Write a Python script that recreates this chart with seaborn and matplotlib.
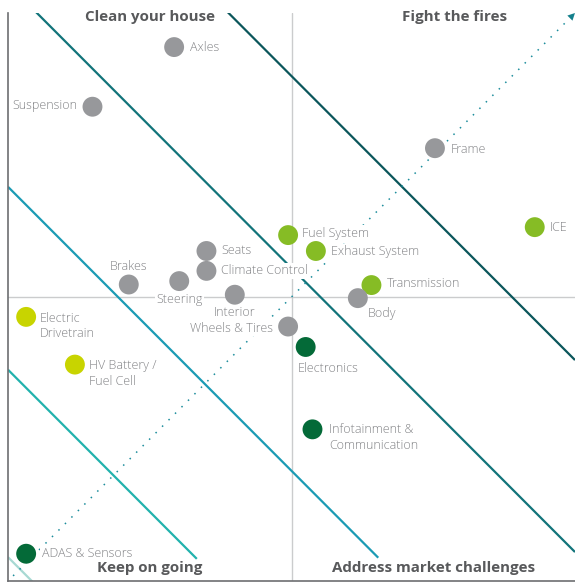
import matplotlib
matplotlib.use("Agg")
import matplotlib.pyplot as plt
import pandas as pd
import seaborn as sns

# --- data -------------------------------------------------------------
components = [
    "Axles", "Suspension", "Frame", "ICE", "Fuel System", "Exhaust System",
    "Seats", "Climate Control", "Brakes", "Steering", "Interior",
    "Transmission", "Body", "Wheels & Tires", "Electronics",
    "Electric\nDrivetrain", "HV Battery /\nFuel Cell",
    "Infotainment &\nCommunication", "ADAS & Sensors",
]
x_score = [2.93, 1.49, 7.53, 9.29, 4.94, 5.43, 3.50, 3.50, 2.13, 3.02, 4.00,
           6.41, 6.17, 4.94, 5.25, 0.32, 1.18, 5.37, 0.32]
y_score = [9.40, 8.35, 7.62, 6.23, 6.09, 5.81, 5.81, 5.46, 5.22, 5.28, 5.04,
           5.21, 4.98, 4.48, 4.12, 4.65, 3.81, 2.67, 0.48]
segment = ["Chassis", "Chassis", "Chassis", "Powertrain", "Powertrain",
           "Powertrain", "Chassis", "Chassis", "Chassis", "Chassis", "Chassis",
           "Powertrain", "Chassis", "Chassis", "Digital", "Electrified",
           "Electrified", "Digital", "Digital"]

quadrant_titles = ["Clean your house", "Fight the fires",
                   "Keep on going", "Address market challenges"]

# diagonal zone boundaries: y = c - x, drawn over the given x span
boundary_c = [13.89, 10.51, 6.94, 3.72, 0.42]
boundary_x_end = [10.0, 10.0, 6.53, 3.33, 0.5]

df = pd.DataFrame({"component": components, "x": x_score, "y": y_score,
                   "segment": segment})

# --- styling ----------------------------------------------------------
sns.set_theme(style="white")
plt.rcParams["font.family"] = ["Open Sans", "DejaVu Sans"]

palette = {"Chassis": "#97989b", "Powertrain": "#86bc25",
           "Electrified": "#c8d400", "Digital": "#046a38"}
boundary_colors = ["#0b565b", "#12747a", "#1b9bb4", "#22b2ad", "#a8d9d3"]
label_color = "#838487"
title_color = "#58595b"

fig = plt.figure(figsize=(5.75, 5.83), dpi=100)
ax = fig.add_axes([8 / 575, 2 / 583, 567 / 575, 568 / 583])
ax.set_xlim(0, 10)
ax.set_ylim(0, 10)
ax.set_xticks([])
ax.set_yticks([])
for side in ("top", "right"):
    ax.spines[side].set_visible(False)
for side in ("left", "bottom"):
    ax.spines[side].set_color("#6d6e71")
    ax.spines[side].set_linewidth(1.2)

# quadrant dividers
ax.axvline(5, color="#cbcccd", lw=1.0, zorder=1)
ax.axhline(5, color="#cbcccd", lw=1.0, zorder=1)

# diagonal zone boundaries
for c, xe, col in zip(boundary_c, boundary_x_end, boundary_colors):
    ax.plot([0, xe], [c, c - xe], color=col, lw=1.6, zorder=2,
            solid_capstyle="butt")

# dotted trend arrow
ax.plot([0.09, 9.85], [0.09, 9.85], color="#1a8c9b", lw=1.1,
        linestyle=(0, (1, 5)), zorder=2)
ax.annotate("", xy=(10.0, 10.0), xytext=(9.8, 9.8),
            arrowprops=dict(arrowstyle="-|>", color="#14808c", lw=0,
                            mutation_scale=13, shrinkA=0, shrinkB=0),
            annotation_clip=False, zorder=3)

# components
sns.scatterplot(data=df, x="x", y="y", hue="segment", palette=palette,
                s=205, linewidth=0, legend=False, ax=ax, zorder=4)
ax.set_xlabel("")
ax.set_ylabel("")

# label placement: (dx, dy) in pixels, dy downward, plus alignment
label_place = {
    "Axles": (16, 0.5, "left"),
    "Suspension": (-15, -1, "right"),
    "Frame": (16, 1, "left"),
    "ICE": (15, 0, "left"),
    "Fuel System": (14, -2, "left"),
    "Exhaust System": (15, 0.5, "left"),
    "Seats": (14.5, 0, "left"),
    "Climate Control": (14.5, 0, "left"),
    "Brakes": (0, -18, "center"),
    "Steering": (0, 18.5, "center"),
    "Interior": (0, 18, "center"),
    "Transmission": (15, -1.5, "left"),
    "Body": (10, 15, "left"),
    "Wheels & Tires": (-15, 1.5, "right"),
    "Electronics": (-8, 22, "left"),
    "Electric\nDrivetrain": (13.5, 9, "left"),
    "HV Battery /\nFuel Cell": (14, 9, "left"),
    "Infotainment &\nCommunication": (16.5, 8.5, "left"),
    "ADAS & Sensors": (15.5, 0, "left"),
}
for name, xv, yv in zip(components, x_score, y_score):
    dx, dy, ha = label_place[name]
    ax.annotate(name, (xv, yv), xytext=(dx, -dy), textcoords="offset pixels",
                ha=ha, va="center", fontsize=9, fontweight="light",
                color=label_color, linespacing=1.27, zorder=5,
                bbox=dict(boxstyle="square,pad=0.1", fc="white", ec="none"))

# quadrant titles
title_pos = [(2.5, 9.93), (7.87, 9.93), (2.5, 0.23), (7.5, 0.23)]
for t, (tx, ty) in zip(quadrant_titles, title_pos):
    ax.text(tx, ty, t, ha="center", va="center", fontsize=10.9,
            fontweight="bold", color=title_color, clip_on=False, zorder=5)

fig.savefig("out.png", dpi=100)
